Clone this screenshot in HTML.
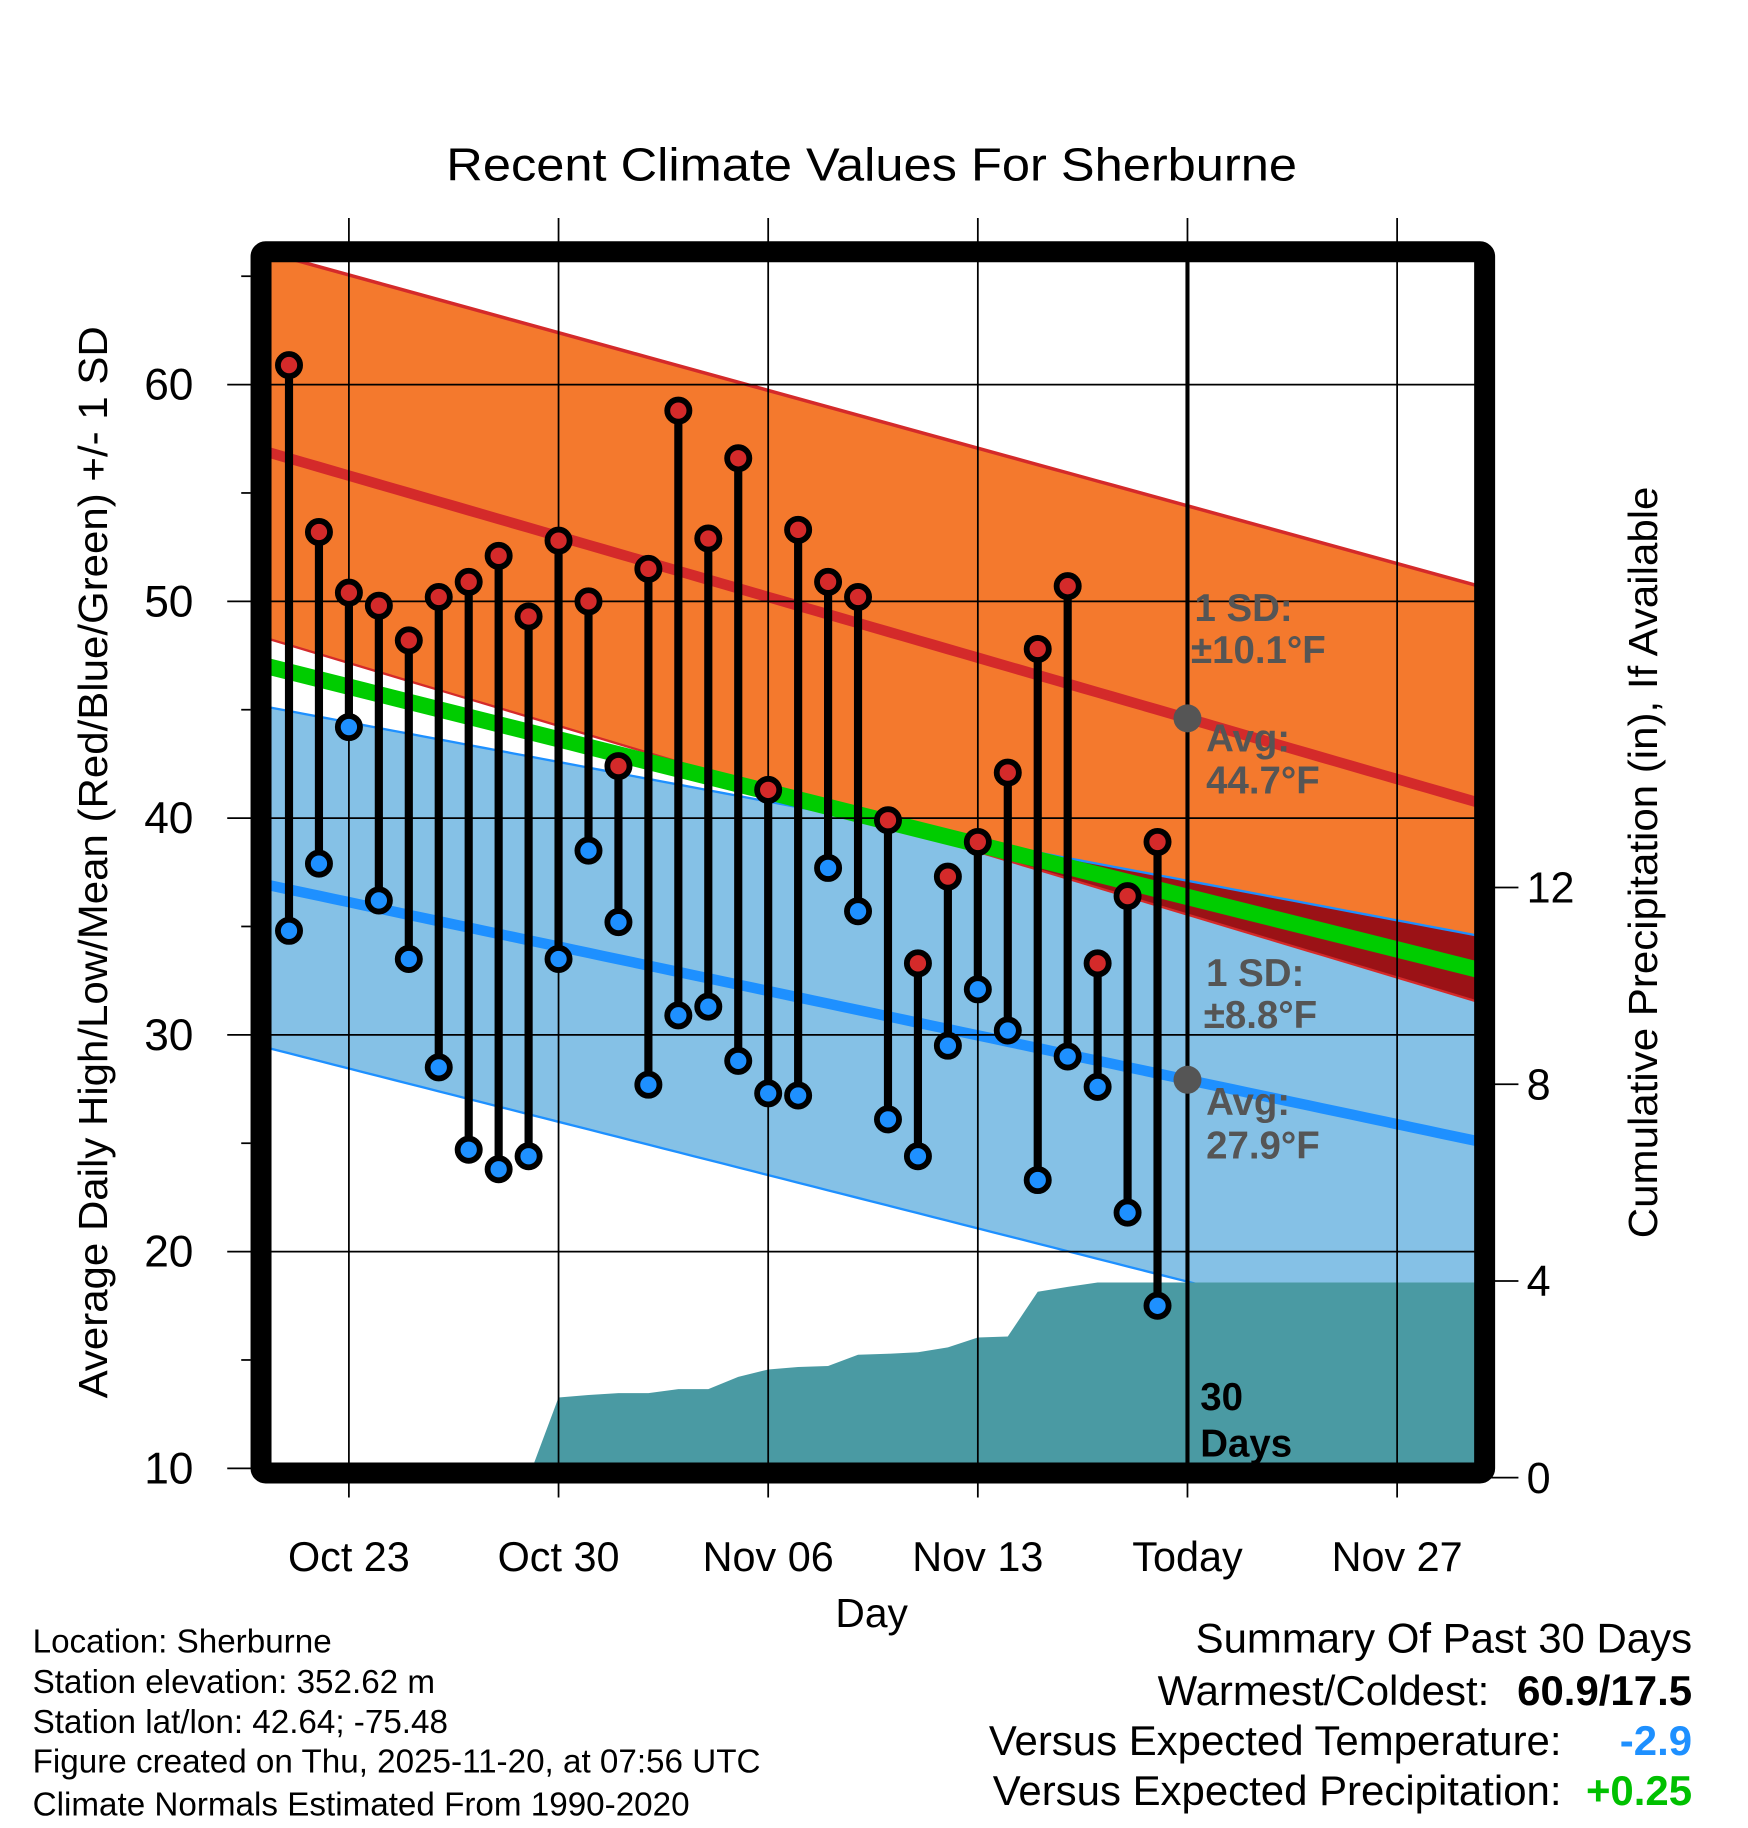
<!DOCTYPE html>
<html><head><meta charset="utf-8"><style>
html,body{margin:0;padding:0;background:#fff}
svg{display:block}
text{font-family:"Liberation Sans",Arial,sans-serif}
</style></head><body>
<svg id="chart" width="1748" height="1828" viewBox="0 0 1500 1568.6" xmlns="http://www.w3.org/2000/svg">
<defs><clipPath id="plotclip"><rect x="224" y="216" width="1050" height="1048"/></clipPath></defs>
<g id="plot" clip-path="url(#plotclip)"></g>
<g id="over"></g>
<text x="748" y="155" font-size="40" text-anchor="middle" textLength="730" lengthAdjust="spacingAndGlyphs">Recent Climate Values For Sherburne</text>
<text x="748" y="1396" font-size="35" text-anchor="middle">Day</text>
<text transform="translate(92,740) rotate(-90)" font-size="35" text-anchor="middle" textLength="920" lengthAdjust="spacingAndGlyphs">Average Daily High/Low/Mean (Red/Blue/Green) +/- 1 SD</text>
<text transform="translate(1422,740) rotate(-90)" font-size="35" text-anchor="middle" textLength="645" lengthAdjust="spacingAndGlyphs">Cumulative Precipitation (in), If Available</text>
<g font-size="28.5">
<text x="28" y="1418">Location: Sherburne</text>
<text x="28" y="1453">Station elevation: 352.62 m</text>
<text x="28" y="1487">Station lat/lon: 42.64; -75.48</text>
<text x="28" y="1521">Figure created on Thu, 2025-11-20, at 07:56 UTC</text>
<text x="28" y="1558">Climate Normals Estimated From 1990-2020</text>
</g>
<g font-size="36" text-anchor="end">
<text x="1452" y="1418">Summary Of Past 30 Days</text>
<text x="1278" y="1463">Warmest/Coldest:</text>
<text x="1452" y="1463" font-weight="bold">60.9/17.5</text>
<text x="1340" y="1506">Versus Expected Temperature:</text>
<text x="1452" y="1506" font-weight="bold" fill="#1e90ff">-2.9</text>
<text x="1340" y="1549">Versus Expected Precipitation:</text>
<text x="1452" y="1549" font-weight="bold" fill="#00c000">+0.25</text>
</g>
</svg>
<script>
// data: day index 0 = Oct 21
const highs=[60.9,53.2,50.4,49.8,48.2,50.2,50.9,52.1,49.3,52.8,50.0,42.4,51.5,58.8,52.9,56.6,41.3,53.3,50.9,50.2,39.9,33.3,37.3,38.9,42.1,47.8,50.7,33.3,36.4,38.9];
const lows=[34.8,37.9,44.2,36.2,33.5,28.5,24.7,23.8,24.4,33.5,38.5,35.2,27.7,30.9,31.3,28.8,27.3,27.2,37.7,35.7,26.1,24.4,29.5,32.1,30.2,23.3,29.0,27.6,21.8,17.5];
const precip=[0,0,0,0,0,0,0,0,0,1.63,1.68,1.72,1.72,1.8,1.8,2.05,2.2,2.25,2.27,2.5,2.52,2.55,2.65,2.85,2.87,3.78,3.88,3.97,3.97,3.97];
const normDays=[-1,40];
const normHigh=[57.0,40.6];
const normHighUpper=[66.2,50.6];
const normHighLower=[48.4,31.4];
const normLow=[37.0,25.0];
const normLowUpper=[45.2,34.5];
const normLowLower=[29.5,15.1];
const normMean=[47.1,32.9];
const yTicks=[10,20,30,40,50,60];
const y2Ticks=[0,4,8,12];
const xTickDays=[2,9,16,23,30,37];
const xTickLabels=["Oct 23","Oct 30","Nov 06","Nov 13","Today","Nov 27"];
const todayDay=30;

const NS="http://www.w3.org/2000/svg";
const X=d=>248+d*25.7;
const Y=v=>1260-(v-10)*18.6;
const Y2=p=>1268-p*42.2;
const lerp=(arr,d)=>arr[0]+(arr[1]-arr[0])*(d-normDays[0])/(normDays[1]-normDays[0]);
const plot=document.getElementById('plot');
const over=document.getElementById('over');
function el(tag,attrs,parent){const e=document.createElementNS(NS,tag);for(const k in attrs)e.setAttribute(k,attrs[k]);(parent||plot).appendChild(e);return e;}
const dA=-1,dB=40;
function band(a,b){const pts=[];for(let d=dA;d<=dB;d+=0.5)pts.push(X(d)+','+Y(lerp(a,d)));for(let d=dB;d>=dA;d-=0.5)pts.push(X(d)+','+Y(lerp(b,d)));return pts.join(' ');}
function line(a){const pts=[];for(let d=dA;d<=dB;d+=0.5)pts.push(X(d)+','+Y(lerp(a,d)));return pts.join(' ');}

let e=el('polygon',{points:band(normLowUpper,normLowLower),fill:'#85c1e6'});

e=el('polygon',{points:band(normHighUpper,normHighLower),fill:'#f4792d'});

{const top=[],bot=[];for(let d=dA;d<=dB;d+=0.25){const u=lerp(normLowUpper,d),l=lerp(normHighLower,d);if(l<u){top.push(X(d)+','+Y(u));bot.unshift(X(d)+','+Y(l));}}
if(top.length){e=el('polygon',{points:top.concat(bot).join(' '),fill:'#9b1216'});}}
e=el('polyline',{points:line(normLowUpper),fill:'none',stroke:'#1e90ff','stroke-width':2});

e=el('polyline',{points:line(normLowLower),fill:'none',stroke:'#1e90ff','stroke-width':2});

e=el('polyline',{points:line(normHighUpper),fill:'none',stroke:'#d42a2a','stroke-width':3});

e=el('polyline',{points:line(normHighLower),fill:'none',stroke:'#d42a2a','stroke-width':2});

e=el('polyline',{points:line(normMean),fill:'none',stroke:'#00cc00','stroke-width':14});

e=el('polyline',{points:line(normHigh),fill:'none',stroke:'#d42a2a','stroke-width':9});

e=el('polyline',{points:line(normLow),fill:'none',stroke:'#1e90ff','stroke-width':9});

{const pts=[];precip.forEach((p,i)=>pts.push(X(i)+','+Y2(p)));pts.push(X(dB)+','+Y2(precip[precip.length-1]));pts.push(X(dB)+','+Y2(0));pts.push(X(0)+','+Y2(0));
e=el('polygon',{points:pts.join(' '),fill:'#4a9aa3'});}
yTicks.forEach(v=>{e=el('line',{x1:195,x2:1274,y1:Y(v),y2:Y(v),stroke:'#000','stroke-width':1.5},over);
 e=el('text',{x:166,y:Y(v)+13,'font-size':38,'text-anchor':'end'},over);e.textContent=v;
 if(v<65){e=el('line',{x1:207,x2:215,y1:Y(v+5),y2:Y(v+5),stroke:'#000','stroke-width':1.5},over);}});
xTickDays.forEach((d,i)=>{e=el('line',{x1:X(d),x2:X(d),y1:187,y2:1285,stroke:'#000','stroke-width':1.5},over);
 e=el('text',{x:X(d),y:1348,'font-size':35.5,'text-anchor':'middle'},over);e.textContent=xTickLabels[i];});
y2Ticks.forEach(p=>{e=el('line',{x1:1274,x2:1303,y1:Y2(p),y2:Y2(p),stroke:'#000','stroke-width':1.5},over);
 e=el('text',{x:1310,y:Y2(p)+13,'font-size':37},over);e.textContent=p;});
highs.forEach((h,i)=>{e=el('line',{x1:X(i),x2:X(i),y1:Y(h),y2:Y(lows[i]),stroke:'#000','stroke-width':7},over);});
highs.forEach((h,i)=>{e=el('circle',{cx:X(i),cy:Y(h),r:9.5,fill:'#d42a2a',stroke:'#000','stroke-width':5},over);
 e=el('circle',{cx:X(i),cy:Y(lows[i]),r:9.5,fill:'#1e90ff',stroke:'#000','stroke-width':5},over);});
e=el('line',{x1:X(todayDay),x2:X(todayDay),y1:216,y2:1262,stroke:'#000','stroke-width':3.5},over);
e=el('circle',{cx:X(todayDay),cy:Y(lerp(normHigh,todayDay)),r:12,fill:'#555'},over);
e=el('circle',{cx:X(todayDay),cy:Y(lerp(normLow,todayDay)),r:12,fill:'#555'},over);
const labs=[[1025,533,'1 SD:','#555'],[1022,569,'±10.1°F','#555'],[1035,645,'Avg:','#555'],[1035,681,'44.7°F','#555'],[1035,846,'1 SD:','#555'],[1033,882,'±8.8°F','#555'],[1035,957,'Avg:','#555'],[1035,994,'27.9°F','#555'],[1030,1210,'30','#000'],[1030,1250,'Days','#000']];
labs.forEach(l=>{e=el('text',{x:l[0],y:l[1],'font-size':33,'font-weight':'bold',fill:l[3]},over);e.textContent=l[2];});
e=el('rect',{x:224,y:216,width:1050,height:1048,rx:4,fill:'none',stroke:'#000','stroke-width':18},over);
</script>
</body></html>
